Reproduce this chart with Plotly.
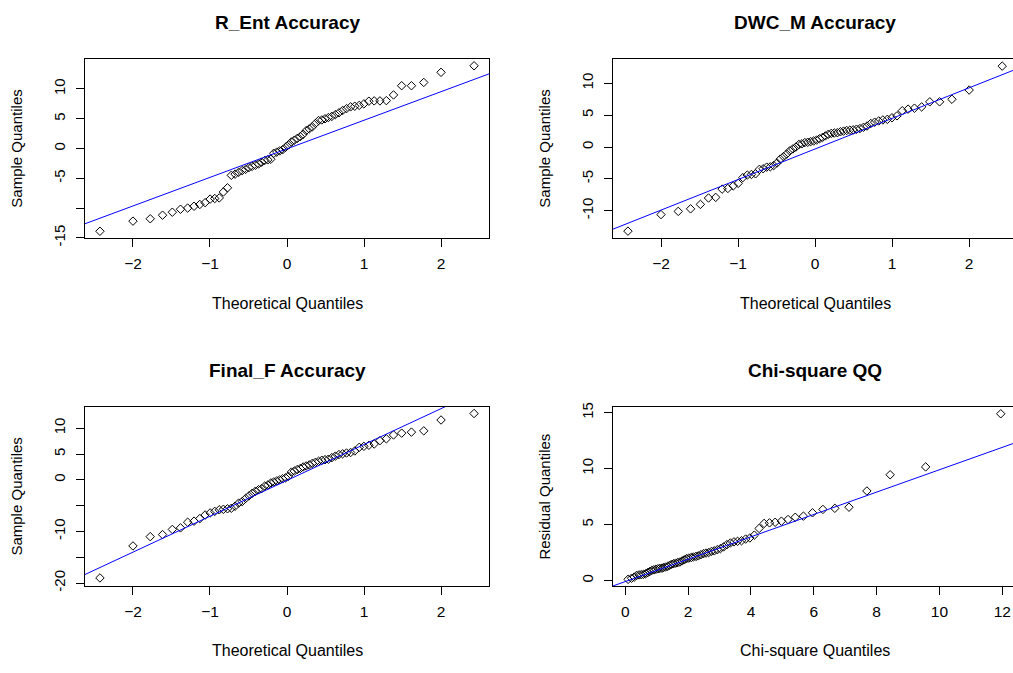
import plotly.graph_objects as go

# Theoretical normal quantiles for n = 66 (plotting positions (i - 0.5) / n)
NORM_Q = [
    -2.429, -2.000, -1.776, -1.616, -1.489, -1.383, -1.290, -1.207, -1.132, -1.063,
    -0.998, -0.938, -0.880, -0.826, -0.773, -0.723, -0.674, -0.628, -0.582, -0.537,
    -0.494, -0.452, -0.410, -0.369, -0.329, -0.289, -0.249, -0.210, -0.172, -0.133,
    -0.095, -0.057, -0.019, 0.019, 0.057, 0.095, 0.133, 0.172, 0.210, 0.249,
    0.289, 0.329, 0.369, 0.410, 0.452, 0.494, 0.537, 0.582, 0.628, 0.674,
    0.723, 0.773, 0.826, 0.880, 0.938, 0.998, 1.063, 1.132, 1.207, 1.290,
    1.383, 1.489, 1.616, 1.776, 2.000, 2.429,
]

# Chi-square (df = 3) quantiles for the same plotting positions
CHISQ_Q = [
    0.09, 0.20, 0.285, 0.362, 0.44, 0.51, 0.58, 0.65, 0.715, 0.78,
    0.845, 0.91, 0.975, 1.04, 1.10, 1.17, 1.213, 1.28, 1.345, 1.41,
    1.475, 1.54, 1.605, 1.673, 1.74, 1.81, 1.88, 1.95, 2.02, 2.10,
    2.17, 2.25, 2.325, 2.405, 2.49, 2.57, 2.655, 2.745, 2.835, 2.93,
    3.03, 3.13, 3.235, 3.345, 3.46, 3.575, 3.70, 3.83, 3.965, 4.108,
    4.26, 4.42, 4.59, 4.77, 4.97, 5.18, 5.41, 5.67, 5.96, 6.29,
    6.67, 7.12, 7.69, 8.43, 9.56, 11.95,
]

# Sorted sample values
R_ENT = [
    -13.9, -12.2, -11.8, -11.2, -10.7, -10.2, -10.0, -9.7, -9.4, -9.1,
    -8.5, -8.4, -8.3, -7.3, -6.6, -4.5, -4.3, -4.0, -3.7, -3.5,
    -3.2, -3.0, -2.8, -2.6, -2.3, -2.0, -1.9, -1.8, -0.8, -0.6,
    -0.4, -0.2, 0.2, 0.6, 1.1, 1.4, 1.7, 2.0, 2.4, 3.0,
    3.3, 3.65, 4.2, 4.7, 4.8, 5.0, 5.2, 5.4, 5.7, 6.0,
    6.4, 6.7, 7.0, 7.1, 7.25, 7.5, 7.95, 8.0, 8.0, 8.05,
    9.0, 10.55, 10.55, 11.1, 12.8, 13.9,
]
DWC_M = [
    -13.2, -10.6, -10.1, -9.7, -9.0, -8.0, -7.9, -6.6, -6.5, -6.1,
    -5.7, -4.8, -4.4, -4.3, -4.2, -3.5, -3.4, -3.15, -3.1, -2.9,
    -2.5, -1.9, -1.5, -1.1, -0.6, -0.3, 0.0, 0.4, 0.5, 0.7,
    0.75, 0.85, 0.95, 1.1, 1.3, 1.5, 1.75, 2.0, 2.15, 2.2,
    2.25, 2.4, 2.5, 2.6, 2.65, 2.7, 2.8, 2.9, 3.1, 3.3,
    3.7, 3.9, 4.1, 4.25, 4.35, 4.6, 4.9, 5.7, 5.95, 6.1,
    6.3, 7.1, 7.1, 7.5, 8.95, 12.7,
]
FINAL_F = [
    -19.0, -12.8, -11.0, -10.6, -9.6, -9.3, -8.2, -8.0, -7.5, -6.8,
    -6.4, -6.1, -5.8, -5.7, -5.6, -5.5, -5.1, -4.5, -4.2, -3.6,
    -3.1, -2.6, -2.2, -1.9, -1.7, -1.2, -1.0, -0.6, -0.4, -0.2,
    0.0, 0.2, 0.4, 0.7, 1.5, 1.7, 2.0, 2.2, 2.5, 2.7,
    2.9, 3.2, 3.4, 3.6, 3.8, 3.9, 4.0, 4.3, 4.6, 4.9,
    5.05, 5.2, 5.3, 5.6, 6.3, 6.5, 6.7, 6.95, 7.6, 7.95,
    8.7, 9.05, 9.25, 9.5, 11.6, 12.85,
]
RESID = [
    0.1, 0.2, 0.3, 0.45, 0.5, 0.52, 0.55, 0.6, 0.7, 0.8,
    0.9, 0.95, 1.0, 1.05, 1.08, 1.1, 1.15, 1.2, 1.25, 1.35,
    1.45, 1.5, 1.55, 1.6, 1.65, 1.75, 1.85, 1.95, 2.0, 2.05,
    2.1, 2.15, 2.2, 2.3, 2.4, 2.45, 2.5, 2.6, 2.65, 2.75,
    2.85, 3.0, 3.2, 3.35, 3.45, 3.5, 3.55, 3.7, 3.8, 4.05,
    4.65, 5.1, 5.15, 5.2, 5.3, 5.45, 5.65, 5.75, 6.05, 6.35,
    6.45, 6.55, 8.0, 9.45, 10.15, 14.9,
]

# Reference line (intercept, slope) for each panel
REF_LINES = [(-0.05, 4.8), (-0.3, 4.8), (-0.1, 6.95), (-0.1, 1.0)]

TITLES = ["R_Ent Accuracy", "DWC_M Accuracy", "Final_F Accuracy", "Chi-square QQ"]
XLABELS = ["Theoretical Quantiles", "Theoretical Quantiles",
           "Theoretical Quantiles", "Chi-square Quantiles"]
YLABELS = ["Sample Quantiles", "Sample Quantiles",
           "Sample Quantiles", "Residual Quantiles"]

X_TICKS = [[-2, -1, 0, 1, 2]] * 3 + [[0, 2, 4, 6, 8, 10, 12]]
Y_TICKS = [
    [-15, -10, -5, 0, 5, 10],
    [-10, -5, 0, 5, 10],
    [-20, -15, -10, -5, 0, 5, 10],
    [0, 5, 10, 15],
]
Y_TICKTEXT = [
    ["-15", "", "-5", "0", "5", "10"],
    ["-10", "-5", "0", "5", "10"],
    ["-20", "", "-10", "", "0", "5", "10"],
    ["0", "5", "10", "15"],
]

W, H = 1013, 673
# plot boxes in pixels: (left, top, right, bottom)
BOXES = [(85, 55, 489, 238), (613, 55, 1013, 238),
         (85, 410, 489, 592.5), (613, 410, 1013, 592.5)]
X_RANGES = [[-2.623, 2.623], [-2.623, 2.569], [-2.623, 2.623], [-0.39, 12.34]]
Y_RANGES = [[-15.1, 15.05], [-14.34, 13.83], [-20.57, 14.1], [-0.5, 15.5]]
# whether the right-hand side of the frame is visible
RIGHT_FRAME = [True, False, True, False]

xs_all = [NORM_Q, NORM_Q, NORM_Q, CHISQ_Q]
ys_all = [R_ENT, DWC_M, FINAL_F, RESID]

FONT = "Arial, Liberation Sans, sans-serif"
fig = go.Figure()
annotations = []
layout_axes = {}

for k in range(4):
    n = "" if k == 0 else str(k + 1)
    xa, ya = "x" + n, "y" + n
    left, top, right, bottom = BOXES[k]

    fig.add_trace(go.Scatter(
        x=xs_all[k], y=ys_all[k], mode="markers", xaxis=xa, yaxis=ya,
        marker=dict(symbol="diamond-open", size=6.5, color="black",
                    line=dict(width=1, color="black")),
        hoverinfo="skip",
    ))
    a, b = REF_LINES[k]
    x0, x1 = X_RANGES[k]
    fig.add_trace(go.Scatter(
        x=[x0, x1], y=[a + b * x0, a + b * x1], mode="lines",
        xaxis=xa, yaxis=ya, line=dict(color="#0000ff", width=1),
        hoverinfo="skip",
    ))

    layout_axes["xaxis" + n] = dict(
        domain=[left / W, right / W], range=X_RANGES[k], anchor=ya,
        showgrid=False, zeroline=False, showline=True, linecolor="black",
        linewidth=1, mirror=True, ticks="outside", ticklen=8,
        tickcolor="black", tickwidth=1, tickvals=X_TICKS[k],
        tickfont=dict(family=FONT, size=15.5, color="black"),
        ticklabelstandoff=3,
    )
    layout_axes["yaxis" + n] = dict(
        domain=[1 - bottom / H, 1 - top / H], range=Y_RANGES[k], anchor=xa,
        showgrid=False, zeroline=False, showline=True, linecolor="black",
        linewidth=1, mirror=RIGHT_FRAME[k], ticks="outside", ticklen=8,
        tickcolor="black", tickwidth=1, tickvals=Y_TICKS[k],
        ticktext=Y_TICKTEXT[k], tickangle=-90,
        tickfont=dict(family=FONT, size=15, color="black"),
        ticklabelstandoff=5,
    )

    cx = (left + (right if RIGHT_FRAME[k] else left + 404)) / 2
    annotations.append(dict(
        text="<b>" + TITLES[k] + "</b>", xref="paper", yref="paper",
        x=cx / W, y=1 - (top - 37) / H, xanchor="center", yanchor="middle",
        showarrow=False, font=dict(family=FONT, size=19, color="black"),
    ))
    annotations.append(dict(
        text=XLABELS[k], xref="paper", yref="paper",
        x=cx / W, y=1 - (bottom + 66) / H, xanchor="center", yanchor="middle",
        showarrow=False, font=dict(family=FONT, size=16, color="black"),
    ))
    annotations.append(dict(
        text=YLABELS[k], xref="paper", yref="paper", textangle=-90,
        x=(left - 68) / W, y=1 - (top + bottom) / 2 / H,
        xanchor="center", yanchor="middle",
        showarrow=False, font=dict(family=FONT, size=15, color="black"),
    ))

fig.update_layout(
    width=W, height=H, margin=dict(l=0, r=0, t=0, b=0),
    paper_bgcolor="white", plot_bgcolor="white", showlegend=False,
    annotations=annotations, hovermode=False, **layout_axes,
)

fig.write_html("out.html", config={"displayModeBar": False})
